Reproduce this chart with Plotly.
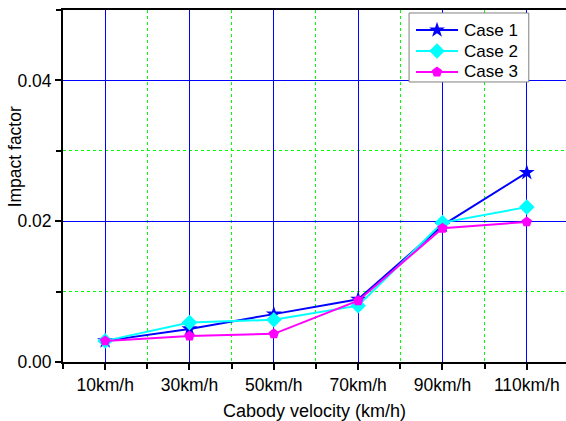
import plotly.graph_objects as go

# Cabody velocity categories and impact factors for each load case
velocities = ["10km/h", "30km/h", "50km/h", "70km/h", "90km/h", "110km/h"]
case1 = [0.0030, 0.0047, 0.0068, 0.0089, 0.0194, 0.0269]
case2 = [0.0030, 0.0056, 0.0060, 0.0080, 0.0198, 0.0220]
case3 = [0.0030, 0.0037, 0.0040, 0.0087, 0.0190, 0.0199]
case_names = ["Case 1", "Case 2", "Case 3"]

FONT = "Arial, Liberation Sans, sans-serif"
positions = list(range(len(velocities)))

colors = ["#0000FF", "#00FFFF", "#FF00FF"]
symbols = ["star", "diamond", "pentagon"]
marker_sizes = [12, 12, 11]

fig = go.Figure()
for name, vals, color, symbol, msize in zip(case_names, [case1, case2, case3],
                                           colors, symbols, marker_sizes):
    fig.add_trace(go.Scatter(
        x=positions, y=vals, name=name, mode="lines+markers",
        line=dict(color=color, width=2),
        marker=dict(symbol=symbol, size=msize, color=color, line=dict(width=0)),
        showlegend=False,
    ))

# Legend box drawn in plot-fraction coordinates on an overlay axis pair
box_x0, box_x1 = 0.688, 0.926
box_y0, box_y1 = 0.7955, 0.9915
row_y = [0.943, 0.8835, 0.824]
line_x0, line_x1 = 0.7018, 0.7853
text_x = 0.793

fig.add_trace(go.Scatter(
    x=[box_x0, box_x1, box_x1, box_x0, box_x0],
    y=[box_y0, box_y0, box_y1, box_y1, box_y0],
    xaxis="x2", yaxis="y2", mode="lines", fill="toself",
    fillcolor="white", line=dict(color="#808080", width=1),
    showlegend=False, hoverinfo="skip",
))
for name, color, symbol, msize, yy in zip(case_names, colors, symbols,
                                          marker_sizes, row_y):
    fig.add_trace(go.Scatter(
        x=[line_x0, line_x1], y=[yy, yy], xaxis="x2", yaxis="y2",
        mode="lines", line=dict(color=color, width=2),
        showlegend=False, hoverinfo="skip",
    ))
    fig.add_trace(go.Scatter(
        x=[(line_x0 + line_x1) / 2], y=[yy], xaxis="x2", yaxis="y2",
        mode="markers",
        marker=dict(symbol=symbol, size=msize, color=color, line=dict(width=0)),
        showlegend=False, hoverinfo="skip",
    ))
    fig.add_annotation(text=name, xref="x2", yref="y2", x=text_x, y=yy,
                       xanchor="left", yanchor="middle", showarrow=False,
                       font=dict(family=FONT, size=17, color="black"))

fig.update_layout(
    width=566, height=421,
    margin=dict(l=63, r=0, t=10, b=59),
    paper_bgcolor="white", plot_bgcolor="white",
    font=dict(family=FONT, size=17, color="black"),
    showlegend=False,
    xaxis=dict(
        range=[-0.5, 5.465],
        tickmode="array", tickvals=positions, ticktext=velocities,
        ticks="outside", ticklen=6, tickwidth=1.5, tickcolor="black",
        showline=True, linecolor="black", linewidth=2, mirror=True,
        showgrid=True, gridcolor="#0000FF", gridwidth=1,
        zeroline=False,
        minor=dict(tick0=0.5, dtick=1, ticks="outside", ticklen=5,
                   tickcolor="black", showgrid=True, gridcolor="#00FF00",
                   griddash="dot", gridwidth=1),
        title=dict(text="Cabody velocity (km/h)", standoff=12,
                   font=dict(family=FONT, size=18)),
        tickfont=dict(family=FONT, size=17.5),
    ),
    yaxis=dict(
        range=[0, 0.05],
        tick0=0, dtick=0.02, tickformat=".2f",
        ticks="outside", ticklen=6, tickwidth=1.5, tickcolor="black",
        showline=True, linecolor="black", linewidth=2, mirror=False,
        showgrid=True, gridcolor="#0000FF", gridwidth=1,
        zeroline=False,
        minor=dict(dtick=0.01, ticks="outside", ticklen=5, tickcolor="black",
                   showgrid=True, gridcolor="#00FF00", griddash="dot",
                   gridwidth=1),
        tickfont=dict(family=FONT, size=17.5),
    ),
    xaxis2=dict(overlaying="x", range=[0, 1], visible=False, fixedrange=True),
    yaxis2=dict(overlaying="y", range=[0, 1], visible=False, fixedrange=True),
)

# Y-axis title placed as rotated text beside the axis
fig.add_annotation(
    text="Impact factor", xref="paper", yref="paper",
    x=-0.095, y=0.582, xanchor="center", yanchor="middle",
    textangle=-90, showarrow=False,
    font=dict(family=FONT, size=17.5, color="black"),
)

fig.write_html("out.html")
